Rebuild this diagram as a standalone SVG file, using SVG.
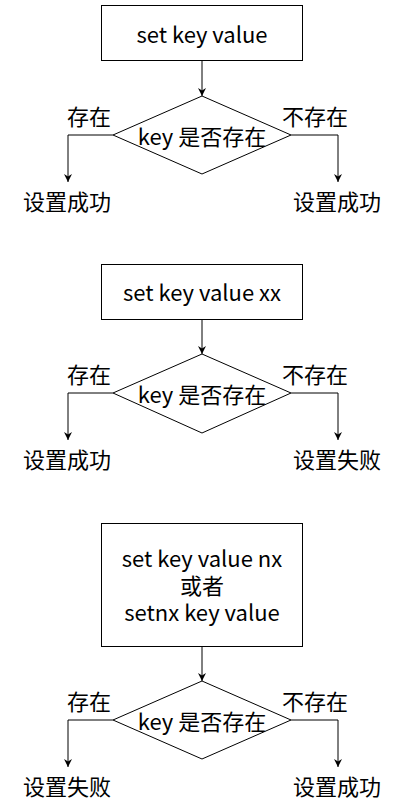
<svg xmlns="http://www.w3.org/2000/svg" width="402" height="806" viewBox="0 0 402 806">
<defs>
<marker id="arr" markerWidth="10" markerHeight="10" refX="9" refY="5" orient="auto" markerUnits="userSpaceOnUse">
<path d="M1,1 L9,5 L1,9 L3.5,5 Z" fill="#000"/>
</marker>
<style>
.box{fill:#fff;stroke:#000;stroke-width:1}
.t{font-family:"Noto Sans CJK SC","Noto Sans",sans-serif;font-size:22px;fill:#000;text-anchor:middle;dominant-baseline:central}
.b{font-family:"Noto Sans CJK SC","Noto Sans",sans-serif;font-size:22px;fill:#000;text-anchor:middle}
.c{fill:none;stroke:#000;stroke-width:1;marker-end:url(#arr)}
</style>
</defs>
<rect width="402" height="806" fill="#fff"/>
<g id="connectors">
<path class="c" d="M202,61 V96"/>
<path class="c" d="M113,135 H68 V182"/>
<path class="c" d="M291,135 H338 V182"/>
<path class="c" d="M202,320 V354"/>
<path class="c" d="M113,393 H68 V440"/>
<path class="c" d="M291,393 H338 V440"/>
<path class="c" d="M202,647 V681"/>
<path class="c" d="M113,720 H68 V767"/>
<path class="c" d="M291,720 H338 V767"/>
</g>
<g id="n1"><rect class="box" x="101.5" y="5.5" width="201" height="55"/><text class="b" x="202" y="43">set key value</text></g>
<g id="d1"><polygon class="box" points="202,96 291,135 202,174 113,135"/><text class="t" x="202" y="135">key 是否存在</text></g>
<g id="l1a"><text class="t" x="89" y="115">存在</text></g>
<g id="l1b"><text class="t" x="315" y="115">不存在</text></g>
<g id="r1a"><text class="t" x="67" y="200">设置成功</text></g>
<g id="r1b"><text class="t" x="337" y="200">设置成功</text></g>

<g id="n2"><rect class="box" x="101.5" y="264.5" width="201" height="55"/><text class="b" x="202" y="301">set key value xx</text></g>
<g id="d2"><polygon class="box" points="202,354 291,393 202,433 113,393"/><text class="t" x="202" y="393">key 是否存在</text></g>
<g id="l2a"><text class="t" x="89" y="373">存在</text></g>
<g id="l2b"><text class="t" x="315" y="373">不存在</text></g>
<g id="r2a"><text class="t" x="67" y="458">设置成功</text></g>
<g id="r2b"><text class="t" x="337" y="458">设置失败</text></g>

<g id="n3"><rect class="box" x="101.5" y="523.5" width="201" height="123"/><text class="b" x="202" y="567"><tspan x="202" y="567">set key value nx</tspan><tspan x="202" y="594">或者</tspan><tspan x="202" y="621">setnx key value</tspan></text></g>
<g id="d3"><polygon class="box" points="202,681 291,720 202,759 113,720"/><text class="t" x="202" y="720">key 是否存在</text></g>
<g id="l3a"><text class="t" x="89" y="700">存在</text></g>
<g id="l3b"><text class="t" x="315" y="700">不存在</text></g>
<g id="r3a"><text class="t" x="67" y="785">设置失败</text></g>
<g id="r3b"><text class="t" x="337" y="785">设置成功</text></g>
</svg>
